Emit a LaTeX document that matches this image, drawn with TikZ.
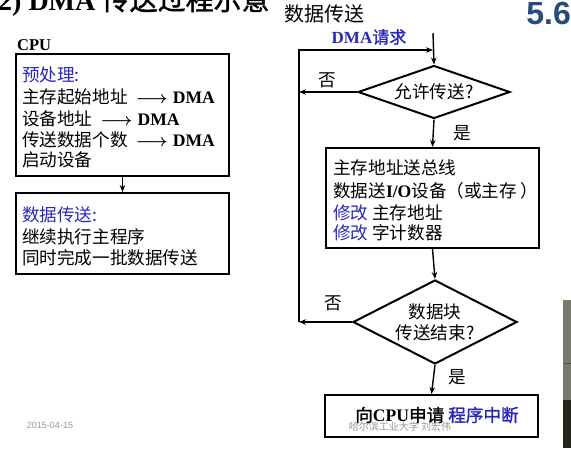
\documentclass[tikz,border=0pt]{standalone}
\usepackage{fontspec}
\setmainfont{Noto Sans CJK SC}[AutoFakeBold=1.5]
\newfontfamily\lat{Liberation Serif}
\newfontfamily\latsans{Liberation Sans}
\usetikzlibrary{shapes.geometric,arrows.meta}
\definecolor{tblue}{RGB}{40,40,190}
\definecolor{numblue}{RGB}{38,76,124}
\definecolor{wm}{RGB}{150,150,150}
\definecolor{stripA}{RGB}{122,122,106}
\definecolor{stripB}{RGB}{37,38,27}
\definecolor{stripL}{RGB}{80,80,70}
\tikzset{
  box/.style={draw, line width=2pt, rectangle, inner sep=0pt},
  dia/.style={draw, line width=2pt, diamond, inner sep=0pt},
  txt/.style={anchor=west, inner sep=0pt, font=\fontsize{17.6}{20}\selectfont},
  ctxt/.style={inner sep=0pt, font=\fontsize{17.6}{20}\selectfont, align=center},
  arr/.style={line width=1.4pt, -{Stealth[length=7pt,width=5.5pt]}},
}
\newcommand{\dma}{{\lat\bfseries DMA}}
\newcommand{\lra}{\hspace{8pt}\textbf{$\boldsymbol{\longrightarrow}$}\hspace{5pt}}
\usepackage{amsmath}
\begin{document}
\begin{tikzpicture}[x=1pt,y=-1pt]
\useasboundingbox (0,0) rectangle (571,448);
\clip (0,0) rectangle (571,448);
% title and slide decorations
\node[anchor=base west, inner sep=0pt, font=\fontsize{28}{30}\selectfont\bfseries] (title) at (-2,10) {{\lat 2) DMA} 传送过程示意};
\node[anchor=north east, inner sep=0pt, font=\fontsize{32}{34}\selectfont\latsans\bfseries, text=numblue] (num) at (571,2) {5.6};
\node[inner sep=0pt, font=\fontsize{9}{10}\selectfont\latsans, text=wm] (date) at (50,425) {2015-04-15};
\fill[stripA] (563,300) rectangle (571,400);
\fill[stripB] (563,400) rectangle (571,448);
\draw[line width=0.8pt, stripL] (563,363) -- (571,363);

% left column
\node[anchor=west, inner sep=0pt, font=\fontsize{16.5}{18}\selectfont\lat\bfseries] (cpu) at (17,45) {CPU};
\node[box, minimum width=213pt, minimum height=122pt] (b1) at (122.5,115) {};
\node[txt, text=tblue] (b1l1) at (22,75) {预处理:};
\node[txt] (b1l2) at (22,97) {主存起始地址\lra\dma};
\node[txt] (b1l3) at (22,119) {设备地址\lra\dma};
\node[txt] (b1l4) at (22,140) {传送数据个数\lra\dma};
\node[txt] (b1l5) at (22,160) {启动设备};
\node[box, minimum width=213pt, minimum height=81pt] (b2) at (122.5,233.5) {};
\node[txt, text=tblue] (b2l1) at (22,215) {数据传送:};
\node[txt] (b2l2) at (22,237) {继续执行主程序};
\node[txt] (b2l3) at (22,258) {同时完成一批数据传送};
\draw[arr] (b1.south) -- (b2.north);

% right column
\node[anchor=west, inner sep=0pt, font=\fontsize{20}{22}\selectfont] (dt) at (284,14) {数据传送};
\node[inner sep=0pt, font=\fontsize{17}{20}\selectfont\bfseries, text=tblue] (req) at (369,37) {{\lat DMA}请求};
\coordinate (top) at (433,33);
\coordinate (c0) at (299,50);
\coordinate (cj) at (433,50);
\coordinate (c1) at (299,92);
\coordinate (c2) at (299,322);

\node[dia, minimum width=152pt, minimum height=53pt] (d1) at (434,92) {};
\node[ctxt] (d1t) at (d1.center) {允许传送?};
\node[box, minimum width=213pt, minimum height=100pt] (b3) at (432.5,198) {};
\node[txt] (b3l1) at (333,168) {主存地址送总线};
\node[txt] (b3l2) at (333,191) {数据送{\lat\bfseries I/O}设备（或主存 ）};
\node[txt] (b3l3) at (333,213) {\textcolor{tblue}{修改} 主存地址};
\node[txt] (b3l4) at (333,233) {\textcolor{tblue}{修改} 字计数器};
\node[dia, minimum width=164pt, minimum height=84pt] (d2) at (435,322) {};
\node[ctxt] (d2t1) at (435,312) {数据块};
\node[ctxt] (d2t2) at (435,333) {传送结束?};
\node[box, minimum width=213pt, minimum height=42pt] (b4) at (431.5,416) {};
\node[ctxt, font=\fontsize{17.6}{20}\selectfont\bfseries] (b4t) at (437,415) {向{\lat CPU}申请 \textcolor{tblue}{程序中断}};
\node[inner sep=0pt, font=\fontsize{10}{11}\selectfont, text=wm] (wmk) at (400,427) {哈尔滨工业大学\ 刘宏伟};

\node[ctxt] (no1) at (327,80) {否};
\node[ctxt] (yes1) at (462,133) {是};
\node[ctxt] (no2) at (333,303) {否};
\node[ctxt] (yes2) at (457,377) {是};

\draw[arr] (top) -- (d1.north);
\draw[arr] (d1.south) -- (b3.north);
\draw[arr] (b3.south) -- (d2.north);
\draw[arr] (d2.south) -- (b4.north);
\draw[arr] (d1.west) -- (c1);
\draw[arr] (d2.west) -- (c2);
\draw[arr] (c2) -- (c0) -- (cj);
\end{tikzpicture}
\end{document}
